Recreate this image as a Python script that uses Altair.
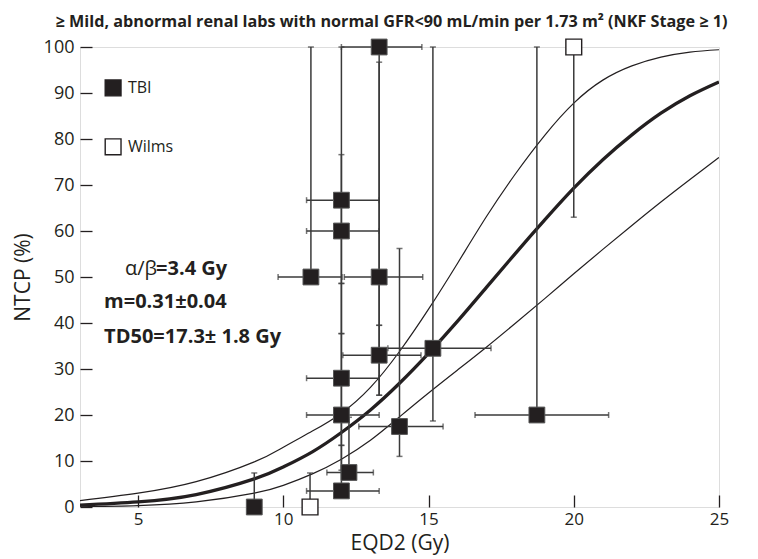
import altair as alt
import pandas as pd

# ---- fitted curves ----
curve_x = [3, 5, 7, 9, 10, 11, 12, 13, 14, 15, 16, 17, 18, 19, 20, 21, 22, 23, 24, 25]
curve_main = [0.4, 1.1, 2.7, 6.1, 8.7, 12.0, 16.2, 21.1, 26.9, 33.4, 40.4, 47.8, 55.2, 62.4, 69.3, 75.5, 80.9, 85.6, 89.4, 92.4]
curve_upper = [1.4, 3.0, 5.5, 9.8, 13.0, 16.5, 20.4, 26.0, 33.8, 43.0, 53.0, 63.2, 72.5, 80.8, 87.8, 92.8, 95.9, 97.8, 98.9, 99.4]
curve_lower = [0.05, 0.3, 1.1, 3.0, 4.7, 7.2, 10.4, 14.5, 19.6, 24.8, 29.8, 34.8, 40.0, 45.3, 50.7, 56.0, 61.2, 66.3, 71.2, 76.0]

# ---- TBI data ----
tbi_x = [9.0, 10.95, 12.0, 12.0, 12.0, 12.0, 12.0, 12.26, 13.3, 13.3, 13.3, 14.0, 15.15, 18.73]
tbi_y = [0.0, 50.0, 66.7, 60.0, 28.0, 20.0, 3.5, 7.5, 100.0, 50.0, 33.0, 17.5, 34.5, 20.0]
tbi_ylo = [0.0, 50.0, 48.6, 37.7, 13.4, 8.0, 3.5, 7.5, 39.5, 24.3, 24.3, 11.0, 18.7, 20.0]
tbi_yhi = [7.4, 100.0, 100.0, 76.6, 48.6, 37.7, 13.4, 19.5, 100.0, 96.7, 39.5, 56.2, 100.0, 100.0]
tbi_xlo = [9.0, 9.82, 10.8, 10.8, 10.8, 10.8, 10.8, 11.5, 12.0, 12.1, 12.05, 12.6, 13.6, 16.6]
tbi_xhi = [9.0, 12.02, 13.3, 13.3, 13.3, 13.3, 13.3, 13.1, 14.77, 14.8, 14.74, 15.5, 17.15, 21.2]

# ---- Wilms data ----
wilms_x = [10.92, 20.0]
wilms_y = [0.0, 100.0]
wilms_ylo = [0.0, 63.0]
wilms_yhi = [7.4, 100.0]

# ---- legend / annotation ----
legend_labels = ["TBI", "Wilms"]
legend_x = [4.14, 4.14]
legend_y = [91.1, 78.3]
legend_text_x = [4.65, 4.65]

ann_text = ["α/β", "=3.4 Gy", "m=0.31±0.04", "TD50=17.3± 1.8 Gy"]
ann_x = [4.55, 5.62, 3.83, 3.83]
ann_y = [51.8, 51.8, 44.5, 36.9]
ann_bold = [False, True, True, True]

title_text = "≥ Mild, abnormal renal labs with normal GFR<90 mL/min per 1.73 m² (NKF Stage ≥ 1)"

INK = "#231f20"
FONT = "Open Sans"

# ---- build tables ----
curves = pd.DataFrame({
    "x": curve_x * 3,
    "y": curve_upper + curve_main + curve_lower,
    "c": ["upper"] * len(curve_x) + ["main"] * len(curve_x) + ["lower"] * len(curve_x),
})

all_x = tbi_x + wilms_x
all_y = tbi_y + wilms_y
all_ylo = tbi_ylo + wilms_ylo
all_yhi = tbi_yhi + wilms_yhi
all_xlo = tbi_xlo + wilms_x
all_xhi = tbi_xhi + wilms_x

vrules, hrules, vcaps, hcaps = [], [], [], []
for x, y, ylo, yhi, xlo, xhi in zip(all_x, all_y, all_ylo, all_yhi, all_xlo, all_xhi):
    if yhi > ylo:
        vrules.append({"x": x, "y1": ylo, "y2": yhi})
        if ylo < y:
            vcaps.append({"x": x, "y": ylo})
        if yhi > y:
            vcaps.append({"x": x, "y": yhi})
    if xhi > xlo:
        hrules.append({"y": y, "x1": xlo, "x2": xhi})
        if xlo < x:
            hcaps.append({"x": xlo, "y": y})
        if xhi > x:
            hcaps.append({"x": xhi, "y": y})
vrules = pd.DataFrame(vrules)
hrules = pd.DataFrame(hrules)
vcaps = pd.DataFrame(vcaps)
hcaps = pd.DataFrame(hcaps)

tbi = pd.DataFrame({"x": tbi_x, "y": tbi_y})
wilms = pd.DataFrame({"x": wilms_x, "y": wilms_y})
leg = pd.DataFrame({"x": legend_x, "y": legend_y, "tx": legend_text_x, "label": legend_labels,
                    "fill": [INK, "white"]})
ann = pd.DataFrame({"x": ann_x, "y": ann_y, "t": ann_text, "b": ann_bold})

xs = alt.Scale(domain=[3, 25], nice=False, zero=False)
ys = alt.Scale(domain=[0, 100], nice=False, zero=False)

x_axis = alt.Axis(values=[5, 10, 15, 20, 25], title="EQD2 (Gy)", grid=False, domain=False,
                  offset=-12, tickSize=12, tickColor=INK, tickWidth=1.3,
                  labelFont=FONT, labelFontSize=17, labelColor=INK, labelPadding=4,
                  titleFont=FONT, titleFontSize=21, titleFontWeight="normal", titleColor=INK,
                  titlePadding=5, labelFlush=False)
y_axis = alt.Axis(values=list(range(0, 101, 10)), title="NTCP (%)", grid=False, domain=False,
                  offset=-12, tickSize=12, tickColor=INK, tickWidth=1.3,
                  labelFont=FONT, labelFontSize=18, labelColor=INK, labelPadding=6,
                  titleFont=FONT, titleFontSize=21, titleFontWeight="normal", titleColor=INK,
                  titlePadding=10, labelFlush=False)


def X(field="x"):
    return alt.X(f"{field}:Q", scale=xs, axis=x_axis)


def Y(field="y"):
    return alt.Y(f"{field}:Q", scale=ys, axis=y_axis)


thin = alt.Chart(curves).transform_filter("datum.c != 'main'").mark_line(
    color=INK, strokeWidth=1.2, interpolate="natural", clip=True
).encode(x=X(), y=Y(), detail="c:N")

main = alt.Chart(curves).transform_filter("datum.c == 'main'").mark_line(
    color=INK, strokeWidth=3.3, interpolate="natural", clip=True
).encode(x=X(), y=Y())

vr = alt.Chart(vrules).mark_rule(color="#3a3a3a", strokeWidth=1.5).encode(
    x=X(), y=Y("y1"), y2="y2:Q")
hr = alt.Chart(hrules).mark_rule(color="#3a3a3a", strokeWidth=1.5).encode(
    y=Y(), x=X("x1"), x2="x2:Q")
vc = alt.Chart(vcaps).mark_tick(orient="horizontal", color="#3a3a3a", size=6, thickness=1.5).encode(
    x=X(), y=Y())
hc = alt.Chart(hcaps).mark_tick(orient="vertical", color="#3a3a3a", size=6, thickness=1.5).encode(
    x=X(), y=Y())

tbi_pts = alt.Chart(tbi).mark_point(shape="square", size=250, filled=True, fill=INK,
                                    stroke="#555", strokeWidth=1, opacity=1).encode(x=X(), y=Y())
wilms_pts = alt.Chart(wilms).mark_point(shape="square", size=250, filled=True, fill="white",
                                        stroke=INK, strokeWidth=1.4, opacity=1).encode(x=X(), y=Y())

leg_pts = alt.Chart(leg).mark_point(shape="square", size=250, filled=True, stroke=INK,
                                    strokeWidth=1.4, opacity=1).encode(
    x=X(), y=Y(), fill=alt.Fill("fill:N", scale=None))
leg_txt = alt.Chart(leg).mark_text(align="left", baseline="middle", font=FONT, fontSize=16,
                                   color=INK).encode(x=X("tx"), y=Y(), text="label:N")

ann_normal = alt.Chart(ann).transform_filter("!datum.b").mark_text(
    align="left", baseline="middle", font=FONT, fontSize=20, color=INK
).encode(x=X(), y=Y(), text="t:N")
ann_bold_txt = alt.Chart(ann).transform_filter("datum.b").mark_text(
    align="left", baseline="middle", font=FONT, fontSize=20, fontWeight="bold", color=INK
).encode(x=X(), y=Y(), text="t:N")

chart = alt.layer(
    thin, main, vr, hr, vc, hc, tbi_pts, wilms_pts, leg_pts, leg_txt, ann_normal, ann_bold_txt
).properties(
    width=639, height=460,
    title=alt.TitleParams(title_text, font=FONT, fontSize=16.2, fontWeight="bold", color=INK,
                          anchor="middle", offset=6, dx=-8),
    autosize=alt.AutoSizeParams(type="none"),
    padding={"left": 72, "top": 39, "right": 31, "bottom": 49},
).configure_view(stroke=INK, strokeWidth=1.4).configure(background="white")

chart.save("out.html", embed_options={"renderer": "svg", "actions": False})
